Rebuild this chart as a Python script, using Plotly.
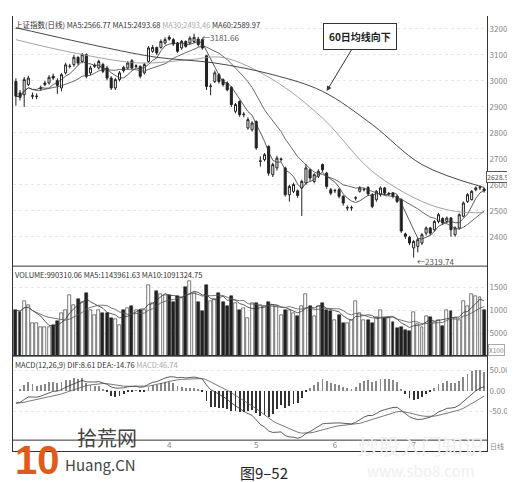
import plotly.graph_objects as go
import pandas as pd

opens = [2998,2954,2947,2986,2941,2940,2970,2986,2992,3018,3001,2973,3031,3056,3063,3091,3075,3101,3031,3056,
         3050,3063,3050,3011,2973,3005,3052,3050,3078,3056,3056,3031,3075,3114,3129,3129,3146,3168,3159,3146,
         3127,3152,3146,3152,3161,3159,3097,2979,2998,3024,3005,2992,2975,2883,2921,2870,2819,2812,2844,2690,
         2697,2748,2639,2665,2697,2665,2562,2575,2577,2588,2607,2658,2613,2633,2678,2645,2581,2577,2581,2556,
         2511,2511,2549,2575,2581,2590,2562,2543,2562,2588,2565,2568,2556,2543,2411,2398,2357,2363,2376,2414,
         2434,2427,2459,2470,2459,2472,2408,2434,2479,2536,2543,2581,2588,2584]
closes = [2941,2937,3005,3011,2943,2941,2973,2992,3014,3011,2983,3024,3062,3057,3091,3069,3101,3018,3050,3060,
          3075,3037,3011,2973,3005,3031,3040,3069,3050,3058,3018,3063,3127,3129,3108,3152,3159,3161,3142,3114,
          3152,3133,3165,3168,3140,3127,2979,2980,3031,2998,2986,2966,2909,2909,2870,2872,2851,2838,2742,2692,
          2716,2645,2678,2703,2699,2562,2594,2601,2559,2613,2665,2626,2639,2652,2658,2594,2568,2578,2556,2530,
          2512,2512,2550,2588,2582,2565,2517,2575,2588,2568,2566,2556,2536,2422,2402,2376,2382,2389,2408,2434,
          2414,2459,2485,2453,2472,2427,2434,2485,2530,2562,2575,2588,2590,2577]
highs = [3010,2965,3015,3020,2955,2952,2982,3000,3022,3028,3010,3030,3070,3066,3100,3095,3108,3106,3058,3068,
         3082,3070,3058,3018,3012,3038,3058,3076,3084,3064,3060,3070,3134,3138,3132,3160,3168,3176,3165,3150,
         3158,3156,3172,3182,3170,3164,3100,2990,3040,3030,3010,2998,2980,2915,2925,2880,2860,2845,2848,2710,
         2722,2752,2685,2712,2705,2670,2600,2608,2582,2620,2680,2662,2645,2660,2682,2650,2588,2585,2588,2560,
         2520,2520,2556,2595,2590,2595,2568,2580,2594,2592,2572,2572,2560,2548,2416,2404,2388,2395,2414,2440,
         2438,2464,2492,2475,2478,2476,2440,2490,2536,2568,2580,2594,2598,2590]
lows = [2905,2925,2900,2980,2930,2930,2962,2980,2986,3004,2950,2960,3025,3048,3055,3060,3068,3010,3022,3050,
        3044,3030,3002,2965,2965,2998,3032,3044,3044,3050,3010,3025,3070,3108,3100,3124,3140,3155,3135,3108,
        3120,3128,3140,3146,3132,3120,2965,2945,2992,2990,2978,2960,2900,2875,2862,2860,2812,2805,2735,2670,
        2690,2635,2630,2655,2690,2555,2535,2568,2550,2480,2600,2615,2606,2626,2650,2585,2560,2568,2548,2520,
        2500,2500,2540,2570,2575,2558,2510,2535,2555,2560,2558,2548,2530,2415,2392,2368,2319.74,2340,2368,2405,
        2405,2420,2452,2445,2452,2400,2400,2428,2475,2530,2540,2575,2580,2570]
volume = [10000,9500,12000,11000,7100,7100,6400,6400,6400,6800,7700,9300,10000,13300,11100,12300,11800,13800,10000,9000,
          10000,9300,9300,8200,8000,6800,10000,10400,10800,10000,10000,10000,15500,11500,14200,13500,13300,13300,11700,13000,
          12600,15000,16200,13700,11800,9700,15500,12000,12300,13800,11700,10800,13000,11500,10100,10400,8200,11500,11500,11100,
          10800,11700,11100,10900,9000,10100,10000,9300,8600,10800,13500,10900,8600,10800,11500,10000,9700,7900,9000,7100,
          7100,7900,12000,9300,7900,7900,7100,8500,10100,8200,8200,7500,6100,6300,5700,5500,9500,7000,6400,8600,
          8500,7500,7900,6600,10000,9700,8200,7900,11900,10800,13500,13000,12800,10000]
ma60_idx = [0,22,34,48,62,74,86,98,113]
ma60_val = [3205,3127,3091,3069,3024,2960,2832,2678,2590]
ma30_idx = [0,14,30,42,50,62,74,86,98,106,113]
ma30_val = [3159,3108,3069,3082,3090,3005,2857,2652,2536,2498,2493]
month_pos = [0,37,58,77,96]
month_lbl = ["2011年3月","4","5","6","7"]

n = len(closes)
x = list(range(n))
c = pd.Series(closes, dtype=float)
ma5 = c.rolling(5, min_periods=1).mean()
ma15 = c.rolling(15, min_periods=1).mean()
v = pd.Series(volume, dtype=float)
vma5 = v.rolling(5, min_periods=1).mean()
vma10 = v.rolling(10, min_periods=1).mean()
e12 = c.ewm(span=12, adjust=False).mean()
e26 = c.ewm(span=26, adjust=False).mean()
dif = e12 - e26 - 30 * (0.93 ** pd.Series(range(n)))
dea = dif.ewm(span=9, adjust=False).mean()
hist = 2 * (dif - dea)

fig = go.Figure()
fig.add_trace(go.Candlestick(x=x, open=opens, high=highs, low=lows, close=closes,
    increasing=dict(line=dict(color="#222", width=1), fillcolor="white"),
    decreasing=dict(line=dict(color="#222", width=1), fillcolor="#222"),
    whiskerwidth=0, showlegend=False, yaxis="y"))
for ser, col in [(ma5, "#333"), (ma15, "#444")]:
    fig.add_trace(go.Scatter(x=x, y=ser, mode="lines", line=dict(color=col, width=0.8), showlegend=False, yaxis="y"))
fig.add_trace(go.Scatter(x=ma30_idx, y=ma30_val, mode="lines", line=dict(color="#999", width=0.9, shape="spline"), showlegend=False, yaxis="y"))
fig.add_trace(go.Scatter(x=ma60_idx, y=ma60_val, mode="lines", line=dict(color="#333", width=0.9, shape="spline"), showlegend=False, yaxis="y"))

vcol = ["white" if cl >= op else "#222" for op, cl in zip(opens, closes)]
fig.add_trace(go.Bar(x=x, y=volume, marker=dict(color=vcol, line=dict(color="#222", width=0.6)), width=0.7, showlegend=False, yaxis="y2"))
fig.add_trace(go.Scatter(x=x, y=vma5, mode="lines", line=dict(color="#333", width=0.8), showlegend=False, yaxis="y2"))
fig.add_trace(go.Scatter(x=x, y=vma10, mode="lines", line=dict(color="#555", width=0.8), showlegend=False, yaxis="y2"))

hcol = ["#888" if h >= 0 else "#333" for h in hist]
fig.add_trace(go.Bar(x=x, y=hist, marker=dict(color=hcol, line=dict(width=0)), width=0.22, showlegend=False, yaxis="y3"))
fig.add_trace(go.Scatter(x=x, y=dif, mode="lines", line=dict(color="#333", width=0.8), showlegend=False, yaxis="y3"))
fig.add_trace(go.Scatter(x=x, y=dea, mode="lines", line=dict(color="#555", width=0.8), showlegend=False, yaxis="y3"))

ax = dict(showgrid=True, gridcolor="#e6e6e6", griddash="dot", side="right", tickfont=dict(size=8, color="#888"),
          showline=True, linecolor="#333", mirror=True, zeroline=False, ticks="", anchor="x", tickformat="d")
fig.update_layout(
    width=515, height=482, margin=dict(l=5, r=36, t=8, b=39), plot_bgcolor="white", paper_bgcolor="white",
    bargap=0, font=dict(family="Noto Sans CJK SC"),
    xaxis=dict(range=[-0.7, n - 0.3], tickvals=month_pos, ticktext=month_lbl, tickfont=dict(size=8, color="#888"),
               showgrid=False, showline=True, linecolor="#333", mirror=True, rangeslider=dict(visible=False),
               ticks="", anchor="y3", ticklabelposition="inside"),
    yaxis=dict(ax, domain=[0.425, 1], range=[2287, 3250], tickvals=list(range(2400, 3201, 100))),
    yaxis2=dict(ax, domain=[0.218, 0.425], range=[0, 19560], tickvals=[5000, 10000, 15000]),
    yaxis3=dict(ax, domain=[0, 0.218], range=[-147, 85], tickvals=[-50, 0, 50], ticktext=["-50.00", "0.00", "50.00"]),
)
for yy in [0.425, 0.218, 0.025]:
    fig.add_shape(type="line", xref="paper", yref="paper", x0=0, x1=1, y0=yy, y1=yy, line=dict(color="#333", width=1))

def t(xp, yp, s, size=8, color="#333", xa="left", ya="middle", family=None, **kw):
    f = dict(size=size, color=color)
    if family:
        f["family"] = family
    fig.add_annotation(x=xp, y=yp, xref="paper", yref="paper", text=s, showarrow=False, xanchor=xa, yanchor=ya,
                       font=f, **kw)
t(0.86, 0.014, "炒股入门知识", size=21, color="#f0f0f0", xa="center")
t(0.86, -0.044, "www.sbo8.com", size=15, color="#f0f0f0", xa="center")
t(0, 0.997, "上证指数(日线) MA5:2566.77 MA15:2493.68 <span style='color:#aaa'>MA30:2493.46</span> MA60:2589.97", size=7.5, ya="top")
t(0, 0.422, "VOLUME:990310.06 MA5:1143961.63 MA10:1091324.75", size=7.5, ya="top")
t(0, 0.215, "MACD(12,26,9) DIF:8.61 DEA:-14.76 <span style='color:#aaa'>MACD:46.74</span>", size=7.5, ya="top")
t(0.998, 0.631, "2628.5", size=7, color="#555", bordercolor="#555", borderwidth=1, bgcolor="white", borderpad=0)
t(1.003, 0.232, "X100", size=6.5, color="#888", bordercolor="#aaa", borderwidth=1, borderpad=0)
t(1.003, 0.012, "日线", size=7, color="#888")

fig.add_annotation(x=75, y=2961, ax=83, ay=3173, xref="x", yref="y", axref="x", ayref="y",
                   text="<b>60日均线向下</b>", showarrow=True, arrowhead=2, arrowsize=1, arrowwidth=1, arrowcolor="#333",
                   font=dict(size=10, color="#222"), bordercolor="#333", borderwidth=1, bgcolor="white", borderpad=5)
fig.add_annotation(x=44, y=3181.66, xref="x", yref="y", text="←3181.66", showarrow=False, xanchor="left", xshift=2,
                   yshift=-4, font=dict(size=8, color="#555"))
fig.add_annotation(x=96, y=2319.74, xref="x", yref="y", text="←2319.74", showarrow=False, xanchor="left", xshift=1,
                   yshift=-4, font=dict(size=8, color="#555"))
t(0.0, -0.02, "<b>10</b>", size=40, color="#e05a1a", family="Liberation Sans")
t(0.13, 0.03, "拾荒网", size=20, color="#444")
t(0.105, -0.03, "Huang.CN", size=15, color="#444")
t(0.53, -0.05, "图9–52", size=15, color="#222", xa="center")
fig.write_html("out.html")
